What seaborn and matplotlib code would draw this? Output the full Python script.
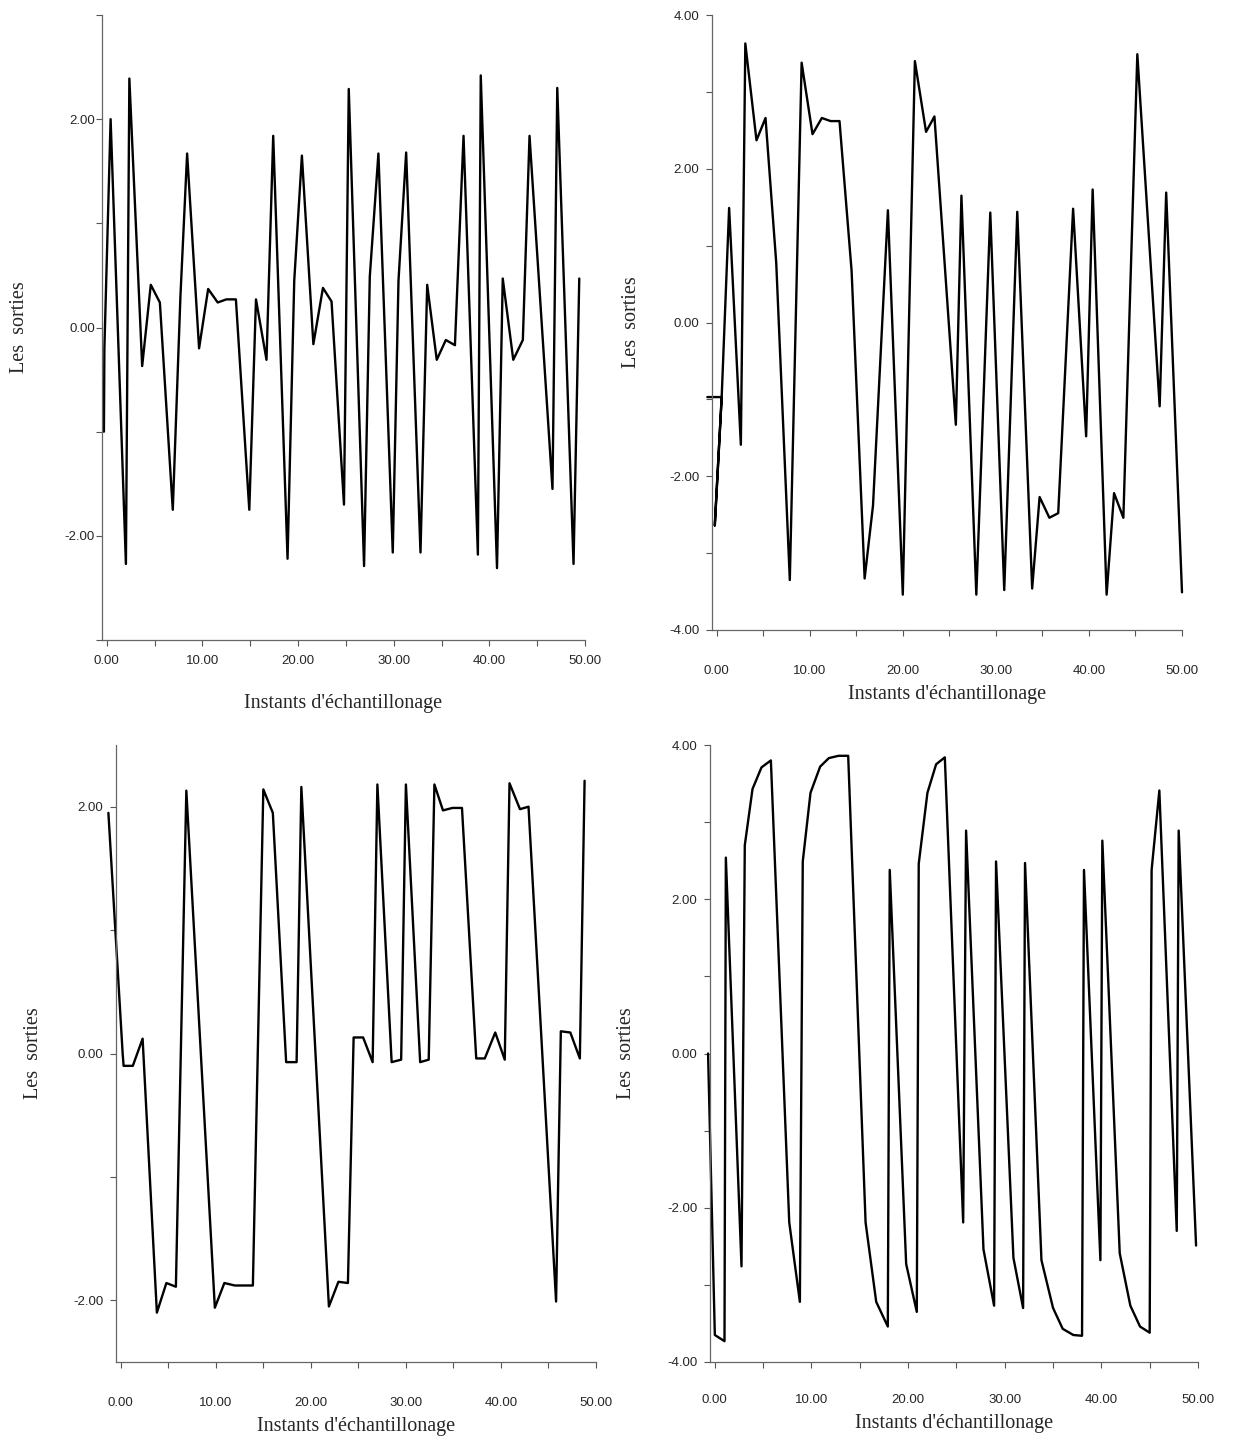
import matplotlib
matplotlib.use("Agg")
import matplotlib.pyplot as plt
import seaborn as sns
from matplotlib.ticker import MultipleLocator, FormatStrFormatter

# sampling instants and outputs
tl_t = [-0.3, -0.25, 0.4, 2.0, 2.36, 3.7, 4.6, 5.55, 6.9, 7.7, 8.4, 9.65, 10.6, 11.6, 12.5,
        13.5, 14.9, 15.6, 16.7, 17.4, 18.9, 19.6, 20.4, 21.6, 22.6, 23.5, 24.8, 25.3, 26.9,
        27.5, 28.4, 29.9, 30.5, 31.3, 32.8, 33.5, 34.5, 35.45, 36.4, 37.3, 38.8, 39.1, 40.8,
        41.4, 42.5, 43.5, 44.2, 46.6, 47.1, 48.8, 49.4]
tl_y = [-1.0, -0.2, 2.0, -2.27, 2.39, -0.37, 0.41, 0.24, -1.75, 0.3, 1.67, -0.2, 0.37, 0.24,
        0.27, 0.27, -1.75, 0.27, -0.31, 1.84, -2.22, 0.45, 1.65, -0.16, 0.38, 0.25, -1.7, 2.29,
        -2.29, 0.49, 1.67, -2.16, 0.45, 1.68, -2.16, 0.41, -0.31, -0.12, -0.17, 1.84, -2.18,
        2.42, -2.31, 0.47, -0.31, -0.12, 1.84, -1.55, 2.30, -2.27, 0.47]

tr_t = [-1.0, 0.54, -0.2, 0.54, 1.34, 2.6, 3.08, 4.28, 5.25, 6.4, 7.86, 9.13, 10.3, 11.3,
        12.25, 13.2, 14.5, 15.9, 16.8, 18.4, 20.0, 21.3, 22.5, 23.4, 25.7, 26.3, 27.9, 29.4,
        30.9, 32.3, 33.9, 34.7, 35.75, 36.7, 38.3, 39.7, 40.4, 41.9, 42.7, 43.7, 45.2, 47.6,
        48.3, 50.0]
tr_y = [-0.97, -0.97, -2.64, -0.97, 1.49, -1.59, 3.63, 2.37, 2.66, 0.78, -3.35, 3.38, 2.45,
        2.66, 2.62, 2.62, 0.67, -3.33, -2.38, 1.46, -3.54, 3.4, 2.48, 2.68, -1.33, 1.65, -3.54,
        1.43, -3.48, 1.44, -3.46, -2.27, -2.54, -2.48, 1.48, -1.48, 1.73, -3.54, -2.22, -2.54,
        3.49, -1.09, 1.69, -3.51]

bl_t = [-1.3, 0.2, 0.3, 1.27, 2.3, 3.8, 4.8, 5.8, 6.9, 9.9, 10.9, 12.0, 13.9, 15.0, 16.0,
        17.4, 18.5, 19.0, 21.9, 22.9, 23.9, 24.5, 25.5, 26.5, 27.0, 28.5, 29.5, 30.0, 31.5,
        32.4, 33.0, 33.9, 34.9, 35.9, 37.4, 38.3, 39.4, 40.4, 40.9, 42.0, 42.9, 45.8, 46.3,
        47.3, 48.3, 48.8]
bl_y = [1.95, 0.0, -0.1, -0.1, 0.12, -2.1, -1.86, -1.89, 2.13, -2.06, -1.86, -1.88, -1.88,
        2.14, 1.95, -0.07, -0.07, 2.16, -2.05, -1.85, -1.86, 0.13, 0.13, -0.07, 2.18, -0.07,
        -0.05, 2.18, -0.07, -0.05, 2.18, 1.97, 1.99, 1.99, -0.04, -0.04, 0.17, -0.05, 2.19,
        1.98, 2.0, -2.01, 0.18, 0.17, -0.04, 2.21]

br_t = [-0.7, 0.0, 1.0, 1.14, 2.76, 3.1, 3.9, 4.83, 5.8, 7.7, 8.8, 9.1, 9.9, 10.9, 11.8,
        12.8, 13.8, 15.6, 16.7, 17.9, 18.1, 19.8, 20.9, 21.1, 22.0, 22.9, 23.8, 25.7, 26.0,
        27.8, 28.9, 29.1, 30.9, 31.9, 32.1, 33.8, 35.0, 36.0, 37.1, 38.0, 38.2, 39.9, 40.1,
        41.9, 43.0, 44.0, 45.0, 45.2, 46.0, 47.8, 48.0, 49.8]
br_y = [0.0, -3.65, -3.73, 2.54, -2.76, 2.7, 3.43, 3.71, 3.8, -2.19, -3.22, 2.49, 3.38, 3.72,
        3.83, 3.86, 3.86, -2.19, -3.22, -3.54, 2.38, -2.73, -3.35, 2.46, 3.38, 3.75, 3.84,
        -2.19, 2.89, -2.54, -3.27, 2.49, -2.65, -3.3, 2.47, -2.68, -3.3, -3.57, -3.65, -3.66,
        2.38, -2.68, 2.76, -2.59, -3.27, -3.54, -3.62, 2.38, 3.41, -2.3, 2.89, -2.49]

xlabel = "Instants d'échantillonage"
ylabel = "Les  sorties"

sns.set_style("ticks")
plt.rcParams['font.family'] = ['Liberation Sans', 'DejaVu Sans']

W, H = 1238, 1441
fig = plt.figure(figsize=(W / 100, H / 100), dpi=100)
fig.patch.set_facecolor("white")


def panel(px_left, px_right, px_top, px_bottom, t, y, ylim, xpad, lpad, ypad):
    ax = fig.add_axes([px_left / W, 1 - px_bottom / H,
                       (px_right - px_left) / W, (px_bottom - px_top) / H])
    sns.lineplot(x=t, y=y, ax=ax, sort=False, estimator=None, color="black",
                 linewidth=1.7, clip_on=False)
    ax.set_xlim(-0.5, 50)
    ax.set_ylim(*ylim)
    ax.xaxis.set_major_locator(MultipleLocator(10))
    ax.xaxis.set_minor_locator(MultipleLocator(5))
    ax.yaxis.set_major_locator(MultipleLocator(2))
    ax.yaxis.set_minor_locator(MultipleLocator(1))
    ax.xaxis.set_major_formatter(FormatStrFormatter("%.2f"))
    ax.yaxis.set_major_formatter(FormatStrFormatter("%.2f"))
    ax.tick_params(which="both", direction="out", length=4, width=0.8, color="#555555",
                   labelsize=9.5)
    ax.tick_params(axis="x", pad=xpad)
    ax.tick_params(axis="y", pad=ypad)
    sns.despine(ax=ax)
    for s in ("left", "bottom"):
        ax.spines[s].set_color("#666666")
        ax.spines[s].set_linewidth(0.9)
    ax.set_xlabel(xlabel, family=["Liberation Serif"], fontsize=14.5, labelpad=lpad)
    ax.set_ylabel(ylabel, family=["Liberation Serif"], fontsize=14.5)
    ax.yaxis.set_label_coords(-0.152, 0.5)
    return ax


panel(102, 585, 15, 640, tl_t, tl_y, (-3, 3), 7, 19, 1)
panel(712, 1182, 15, 630, tr_t, tr_y, (-4, 4), 21, 6, 5)
panel(116, 596, 745, 1362, bl_t, bl_y, (-2.5, 2.5), 21, 6, 5)
panel(710, 1198, 745, 1362, br_t, br_y, (-4, 4), 19, 6, 5)

fig.savefig("out.png", dpi=100, facecolor="white")
